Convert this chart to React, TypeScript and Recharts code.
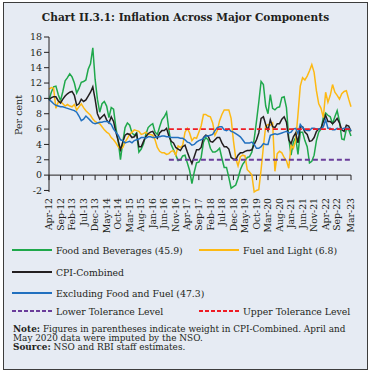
import React from 'react';
import { LineChart, Line, XAxis, YAxis, ReferenceLine } from 'recharts';

const MONTH_NAMES = ['Jan', 'Feb', 'Mar', 'Apr', 'May', 'Jun', 'Jul', 'Aug', 'Sep', 'Oct', 'Nov', 'Dec'];

// Apr-12 .. Mar-23
const months: string[] = [];
for (let yr = 2012; yr <= 2023; yr++) {
  for (let m = 0; m < 12; m++) {
    if ((yr === 2012 && m < 3) || (yr === 2023 && m > 2)) continue;
    months.push(`${MONTH_NAMES[m]}-${String(yr).slice(2)}`);
  }
}

// y-o-y inflation, per cent (first row Apr-Dec 2012, last row Jan-Mar 2023)
const foodBeverages = [
  9.8, 10.8, 11.5, 11.6, 10.5, 9.7, 10.9, 12.3, 12.7,
  13.2, 12.8, 12.0, 10.7, 11.3, 12.1, 12.2, 12.4, 13.8, 14.5, 16.6, 12.5,
  9.9, 8.2, 9.3, 9.6, 9.0, 7.5, 8.8, 8.6, 6.2, 4.5, 2.0, 4.3,
  6.2, 6.8, 6.5, 5.5, 5.2, 5.5, 3.0, 3.4, 4.1, 5.3, 6.2, 6.5,
  6.7, 5.6, 5.3, 6.3, 7.2, 7.6, 8.2, 5.9, 4.0, 3.3, 2.6, 1.9,
  2.0, 2.5, 2.6, 1.6, 0.6, -1.1, 0.4, 1.6, 1.7, 2.3, 4.3, 4.9,
  4.6, 3.5, 3.0, 3.0, 3.2, 3.5, 2.2, 1.0, 1.0, -0.3, -1.7, -1.5,
  -1.3, -0.4, 0.7, 1.4, 1.8, 2.3, 2.4, 3.0, 4.7, 7.0, 9.5, 12.2,
  11.8, 9.0, 8.0, 10.5, 8.7, 8.5, 8.8, 8.9, 10.1, 10.2, 8.8, 4.8,
  2.6, 4.3, 4.9, 2.7, 5.6, 5.6, 4.5, 3.7, 1.6, 1.8, 2.6, 4.5,
  5.6, 6.0, 7.5, 8.1, 7.8, 7.6, 6.7, 7.6, 8.4, 7.0, 4.7, 4.6,
  6.0, 5.9, 5.1,
];

const fuelLight = [
  11.2, 11.4, 11.3, 8.7, 9.5, 9.6, 9.3, 9.0, 9.2,
  9.0, 8.9, 9.2, 8.5, 8.9, 9.3, 8.8, 8.4, 8.1, 7.8, 7.3, 7.0,
  6.8, 6.7, 6.3, 5.9, 5.6, 5.4, 4.9, 4.6, 4.2, 3.7, 3.4, 3.6,
  4.3, 4.8, 5.3, 5.6, 5.9, 5.8, 5.7, 5.3, 5.4, 5.6, 5.3, 5.3,
  5.2, 4.6, 3.6, 3.1, 2.9, 2.9, 2.7, 2.8, 3.1, 3.2, 2.6, 3.8,
  3.6, 3.9, 5.6, 6.1, 5.5, 4.5, 4.9, 4.8, 5.6, 6.4, 7.9, 7.9,
  7.7, 7.6, 6.8, 5.2, 5.8, 7.1, 7.9, 8.5, 8.5, 8.5, 7.4, 4.5,
  2.2, 1.2, 2.4, 2.6, 2.5, 0.7, 0.4, 0.0, -2.2, -2.0, -1.9, 0.7,
  3.7, 6.4, 6.6, 6.5, 6.8, 0.5, 2.8, 3.1, 2.9, 2.3, 1.9, 0.9,
  3.9, 3.5, 4.5, 7.9, 11.6, 12.7, 12.4, 12.9, 13.6, 14.4, 13.4, 11.0,
  9.3, 8.7, 7.5, 10.8, 9.5, 10.4, 11.8, 10.8, 10.4, 9.9, 10.6, 10.9,
  11.0, 9.9, 8.9,
];

const cpiCombined = [
  9.8, 10.1, 10.2, 10.2, 9.7, 9.4, 9.9, 10.3, 10.6,
  10.8, 10.9, 10.4, 9.1, 9.3, 9.9, 9.6, 9.8, 10.3, 10.8, 11.5, 9.9,
  8.0, 7.3, 7.6, 7.9, 7.2, 6.8, 7.6, 7.0, 5.6, 4.5, 3.3, 4.3,
  5.2, 5.4, 5.3, 4.9, 5.0, 5.4, 3.7, 3.7, 4.4, 5.0, 5.4, 5.6,
  5.7, 5.2, 4.8, 5.5, 5.8, 5.8, 6.1, 5.1, 4.4, 4.2, 3.6, 3.4,
  3.2, 3.7, 3.9, 3.0, 2.2, 1.5, 2.4, 3.3, 3.3, 3.6, 4.9, 5.2,
  5.1, 4.4, 4.3, 4.6, 4.9, 4.9, 4.2, 3.7, 3.7, 3.4, 2.3, 2.1,
  2.0, 2.6, 2.9, 2.9, 3.1, 3.2, 3.2, 3.3, 4.0, 4.6, 5.5, 7.4,
  7.6, 6.6, 5.8, 7.2, 6.3, 6.2, 6.7, 6.7, 7.3, 7.6, 6.9, 4.6,
  4.1, 5.0, 5.5, 4.2, 6.3, 6.3, 5.6, 5.3, 4.4, 4.5, 4.9, 5.7,
  6.0, 6.1, 7.0, 7.8, 7.0, 7.0, 6.7, 7.0, 7.4, 6.8, 5.9, 5.7,
  6.5, 6.4, 5.7,
];

const exFoodFuel = [
  9.8, 9.6, 9.3, 9.1, 9.0, 8.9, 8.9, 8.8, 8.7,
  8.6, 8.5, 8.4, 8.2, 7.7, 7.1, 7.3, 7.7, 7.4, 7.1, 6.8, 6.7,
  6.8, 6.9, 6.9, 7.0, 7.0, 6.9, 6.6, 6.0, 5.6, 5.2, 4.6, 4.5,
  4.2, 4.3, 4.4, 4.2, 4.5, 4.6, 4.7, 4.9, 4.9, 4.8, 5.0, 5.0,
  4.9, 4.9, 5.0, 5.0, 5.1, 5.1, 5.0, 5.0, 4.9, 4.9, 4.9, 4.9,
  4.8, 4.8, 4.6, 4.3, 4.2, 3.9, 4.0, 4.3, 4.5, 4.6, 4.8, 5.1,
  5.1, 5.2, 5.3, 5.8, 6.2, 6.3, 6.3, 5.9, 5.8, 6.0, 5.7, 5.6,
  5.4, 5.2, 5.0, 4.6, 4.2, 4.2, 4.2, 4.3, 4.0, 3.5, 3.5, 3.7,
  4.1, 4.0, 4.0, 5.2, 5.3, 5.4, 5.3, 5.4, 5.5, 5.6, 5.7, 5.5,
  5.6, 6.0, 6.1, 5.4, 6.6, 6.2, 5.9, 5.8, 5.8, 6.1, 6.1, 6.0,
  6.0, 6.0, 6.3, 7.2, 6.1, 6.1, 5.9, 5.9, 6.1, 6.0, 6.0, 6.1,
  6.1, 6.1, 5.8,
];

const tickLabels = [
  'Apr-12', 'Sep-12', 'Feb-13', 'Jul-13', 'Dec-13', 'May-14', 'Oct-14', 'Mar-15', 'Aug-15',
  'Jan-16', 'Jun-16', 'Nov-16', 'Apr-17', 'Sep-17', 'Feb-18', 'Jul-18', 'Dec-18', 'May-19',
  'Oct-19', 'Mar-20', 'Aug-20', 'Jan-21', 'Jun-21', 'Nov-21', 'Apr-22', 'Sep-22', 'Mar-23',
];
const yTicks = [-2, 0, 2, 4, 6, 8, 10, 12, 14, 16, 18];

const lowerTolerance = 2;
const upperTolerance = 6;
const toleranceFrom = 'Aug-16';

const startIdx = months.indexOf(toleranceFrom);
const data = months.map((name, i) => ({
  name,
  food: foodBeverages[i],
  fuel: fuelLight[i],
  cpi: cpiCombined[i],
  core: exFoodFuel[i],
  lower: i >= startIdx ? lowerTolerance : null,
  upper: i >= startIdx ? upperTolerance : null,
}));

const FONT = '"DejaVu Serif", serif';
const INK = '#231F20';
const GREEN = '#1FA84B';
const ORANGE = '#FDB913';
const BLUE = '#2170BF';
const PURPLE = '#6A3D9A';
const RED = '#EE1C25';

const MonthTick = ({ x, y, payload }: any) => (
  <text
    x={x}
    y={y}
    transform={`rotate(-90, ${x}, ${y})`}
    textAnchor="end"
    dy="0.34em"
    fontSize={9.3}
    fontFamily={FONT}
    fill={INK}
  >
    {payload.value}
  </text>
);

const legendRows = [
  { label: 'Food and Beverages (45.9)', color: GREEN, dashed: false, x: 12, y: 250 },
  { label: 'Fuel and Light (6.8)', color: ORANGE, dashed: false, x: 199, y: 250 },
  { label: 'CPI-Combined', color: INK, dashed: false, x: 12, y: 272 },
  { label: 'Excluding Food and Fuel (47.3)', color: BLUE, dashed: false, x: 12, y: 293 },
  { label: 'Lower Tolerance Level', color: PURPLE, dashed: true, x: 12, y: 311 },
  { label: 'Upper Tolerance Level', color: RED, dashed: true, x: 199, y: 311 },
];

export default function App() {
  return (
    <div style={{ position: 'relative', width: 371, height: 374, background: '#fff', fontFamily: FONT, color: INK }}>
      <style>{'body{margin:0}'}</style>
      <div
        style={{
          position: 'absolute',
          left: 3,
          top: 2,
          width: 365,
          height: 368,
          boxSizing: 'border-box',
          border: '1px solid #3c3c3c',
          background: '#E6EBF3',
        }}
      />
      <div
        style={{
          position: 'absolute',
          left: 0,
          top: 11,
          width: 371,
          textAlign: 'center',
          fontWeight: 'bold',
          fontSize: 10.6,
          whiteSpace: 'nowrap',
        }}
      >
        Chart II.3.1: Inflation Across Major Components
      </div>

      <div
        style={{
          position: 'absolute',
          left: 18,
          top: 115,
          transform: 'translate(-50%, -50%) rotate(-90deg)',
          fontSize: 9.5,
          whiteSpace: 'nowrap',
        }}
      >
        Per cent
      </div>

      <div style={{ position: 'absolute', left: 0, top: 30 }}>
        <LineChart width={360} height={205} data={data} margin={{ top: 7, right: 9, bottom: 0, left: 0 }}>
          <XAxis
            dataKey="name"
            ticks={tickLabels}
            interval={0}
            height={43}
            axisLine={false}
            tickLine={false}
            tickSize={4}
            tickMargin={2}
            tick={<MonthTick />}
          />
          <YAxis
            domain={[-2, 18]}
            ticks={yTicks}
            interval={0}
            width={49}
            tickSize={5}
            tickMargin={2}
            axisLine={{ stroke: INK }}
            tickLine={{ stroke: INK }}
            tick={{ fontSize: 9.5, fill: INK, fontFamily: FONT }}
          />
          <ReferenceLine y={0} stroke={INK} strokeWidth={1} />
          {tickLabels.map((t) => (
            <ReferenceLine
              key={t}
              segment={[
                { x: t, y: 0 },
                { x: t, y: -0.65 },
              ]}
              stroke={INK}
              strokeWidth={1}
            />
          ))}
          <Line dataKey="food" stroke={GREEN} strokeWidth={1.5} dot={false} isAnimationActive={false} />
          <Line dataKey="fuel" stroke={ORANGE} strokeWidth={1.5} dot={false} isAnimationActive={false} />
          <Line dataKey="cpi" stroke={INK} strokeWidth={1.5} dot={false} isAnimationActive={false} />
          <Line dataKey="core" stroke={BLUE} strokeWidth={1.5} dot={false} isAnimationActive={false} />
          <Line
            dataKey="lower"
            stroke={PURPLE}
            strokeWidth={1.8}
            strokeDasharray="5 3"
            dot={false}
            isAnimationActive={false}
          />
          <Line
            dataKey="upper"
            stroke={RED}
            strokeWidth={1.8}
            strokeDasharray="5 3"
            dot={false}
            isAnimationActive={false}
          />
        </LineChart>
      </div>

      {legendRows.map((r) => (
        <div
          key={r.label}
          style={{
            position: 'absolute',
            left: r.x,
            top: r.y - 7,
            height: 14,
            display: 'flex',
            alignItems: 'center',
            fontSize: 9.3,
            whiteSpace: 'nowrap',
          }}
        >
          <svg width={40} height={4} style={{ display: 'block' }}>
            <line
              x1={0}
              y1={2}
              x2={40}
              y2={2}
              stroke={r.color}
              strokeWidth={2}
              strokeDasharray={r.dashed ? '4 2' : undefined}
            />
          </svg>
          <span style={{ marginLeft: 4 }}>{r.label}</span>
        </div>
      ))}

      <div style={{ position: 'absolute', left: 13, top: 325, fontSize: 8.9, lineHeight: '9px', whiteSpace: 'nowrap' }}>
        <div>
          <b>Note:</b> Figures in parentheses indicate weight in CPI-Combined. April and
        </div>
        <div>May 2020 data were imputed by the NSO.</div>
        <div>
          <b>Source:</b> NSO and RBI staff estimates.
        </div>
      </div>
    </div>
  );
}
